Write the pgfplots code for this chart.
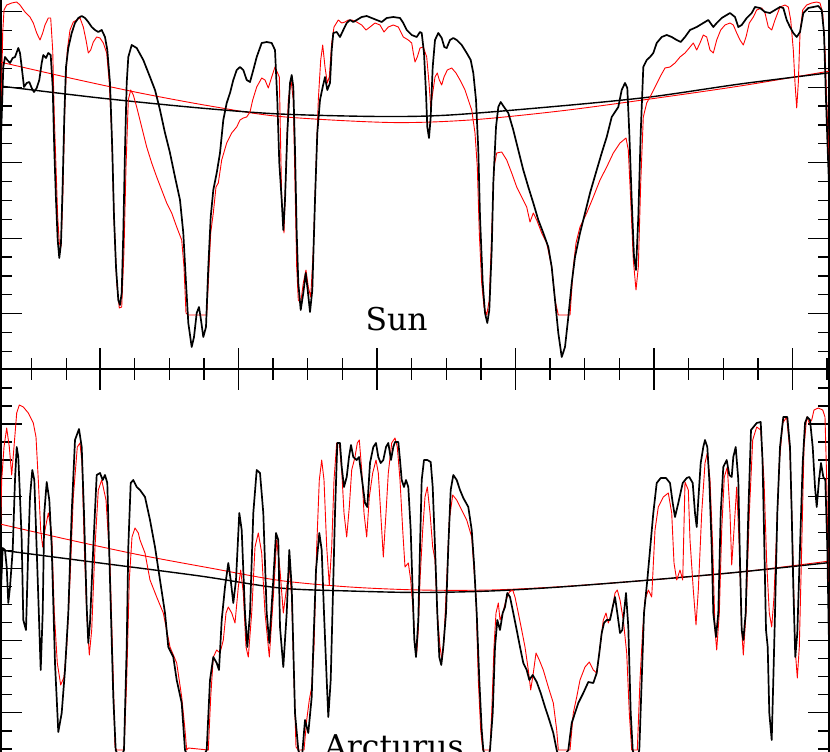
\documentclass[border=0pt]{standalone}
\usepackage{pgfplots}
\pgfplotsset{compat=1.18}
\usepackage{fontspec}
\setmainfont{DejaVu Serif}
\pgfplotsset{
  panel/.style={
    scale only axis, width=828bp, xmin=1, xmax=829, y dir=reverse,
    xtick={100,238.5,377,515.5,654,792.5},
    minor xtick={31.75,66.4,134.6,169.2,203.9,273.1,307.8,342.4,411.6,446.2,480.9,550.1,584.8,619.4,688.6,723.3,757.9,827.1},
    xticklabels={}, yticklabels={},
    tick align=inside,
    major tick length=21bp, minor tick length=11bp,
    every tick/.style={black, line width=1.3bp},
    axis line style={line width=1.5bp},
  },
  spec/.style={black, line width=1.7bp, line join=round},
  mod/.style={red, line width=0.9bp, line join=round},
  contb/.style={black, line width=1.4bp, smooth},
  contr/.style={red, line width=0.9bp, smooth},
}
\begin{document}
\begin{tikzpicture}
\useasboundingbox (0,0) rectangle (830bp,752bp);
\clip (0,0) rectangle (830bp,752bp);
% ---------------- top panel: Sun
\begin{axis}[panel, at={(1bp,383bp)}, anchor=south west, height=393bp, ymin=-24, ymax=369,
  ytick={11.7,87.2,162.7,238.2,313.7},
  minor ytick={-7.2,30.6,49.5,68.3,106.1,125,143.8,181.6,200.5,219.3,257.1,276,294.8,332.6,351.5}]
\addplot[contr] coordinates {(0,62)(70,78)(140,93)(210,106)(280,116.5)(390,122.5)(470,120)(560,111)(650,99)(740,86)(830,71)};
\addplot[contb] coordinates {(0,86)(100,98)(200,108)(280,114)(380,116.5)(450,115)(560,106)(650,97)(740,84)(830,72.7)};
\addplot[mod] coordinates {(0,117)(1.7,83)(2.7,33)(4,10)(6.7,5)(11.7,3)(16.7,2)(20,5)(25,12)(30,17)(33.3,23)(36.7,33)(40,40)(42.7,33)(45,25)(48.3,18)(50.7,18)(52.7,50)(54.3,117)(56,167)(57.7,217)(59.3,243)(61,247)(62.7,200)(65,100)(67.3,50)(70,30)(73.3,22)(76.7,20)(80,18)(83.3,27)(86,40)(88.3,53)(90.7,50)(93.3,42)(96.7,37)(100,38)(103.3,43)(106.7,53)(109.3,83)(111.7,133)(114,217)(116.7,283)(119.3,308)(121.7,307)(124,250)(126,167)(128.3,100)(130.7,90)(133.3,95)(136.7,107)(141.7,127)(146.7,147)(151.7,163)(156.7,177)(161.7,190)(166.7,203)(171.7,213)(176.7,227)(181.7,240)(184,267)(186,313)(188.3,315)(206.7,315)(208.3,283)(210.7,233)(213.3,213)(216,187)(218.3,183)(221.7,160)(226.7,143)(231.7,133)(236.7,127)(240,120)(243.3,118)(246.7,117)(250,112)(252.7,100)(256.7,87)(261.7,78)(265,80)(268.3,88)(271.7,77)(275,67)(279.3,77)(281.7,200)(284,233)(286,167)(288.3,100)(291,80)(293.3,100)(295,183)(296.7,267)(298.3,300)(300.7,303)(303.3,283)(306,270)(308.3,287)(310.7,297)(313.3,250)(316,167)(318.3,100)(320.7,60)(322.7,45)(325,67)(327.3,83)(329.3,77)(331.7,43)(334,27)(338.3,20)(341.7,23)(345,22)(348.3,20)(351.7,20)(356.7,22)(361.7,25)(366,30)(370,27)(375,23)(380,25)(384,32)(388.3,27)(393.3,25)(398.3,27)(403.3,37)(408.3,40)(411.7,43)(413.3,53)(415,62)(417.3,57)(420,48)(423.3,47)(426.7,57)(429,83)(430.7,107)(432.7,93)(435,77)(437.3,73)(439.3,80)(441.7,85)(444,77)(447.3,70)(451.7,68)(456,73)(460,80)(465,90)(468.3,100)(471.7,110)(475,133)(477.3,167)(479.3,233)(481.7,283)(484,307)(486.7,315)(489.3,300)(491.7,233)(494,167)(496.7,153)(501.7,152)(506.7,160)(511.7,173)(516.7,187)(521.7,197)(526.7,207)(530,222)(533.3,213)(536.7,220)(541.7,233)(546.7,243)(551.7,267)(555,300)(558.3,315)(570,315)(573.3,267)(576,243)(580,227)(586.7,213)(593.3,197)(600,180)(606.7,167)(613.3,153)(620,143)(626,138)(628.3,150)(630.7,200)(633.3,260)(636,290)(638.3,267)(640.7,183)(643.3,117)(646.7,103)(650,97)(655,87)(660,77)(665,68)(670,67)(675,63)(680,57)(685,53)(690,47)(693.3,43)(696.7,50)(700,43)(703.3,35)(706.7,37)(710,50)(713.3,53)(716.7,40)(720.7,30)(725,25)(730,23)(733.3,25)(736.7,33)(740,40)(743.3,45)(746,37)(749.3,23)(753.3,17)(756.7,10)(761.7,8)(765,13)(768.3,27)(771.7,30)(775,20)(780,7)(785,5)(788.3,7)(790.7,20)(793.3,50)(795,83)(796.7,108)(798.3,83)(800,33)(802.7,10)(806.7,5)(811.7,3)(816.7,2)(820,3)(822.7,13)(825,50)(827.3,117)(829.3,167)(831,200)};
\addplot[spec] coordinates {(0,160)(1.7,117)(3.3,67)(5,57)(7.3,60)(10,63)(12.7,58)(15,57)(18.3,48)(20,53)(21.7,67)(24,87)(26.7,83)(29.3,82)(31.7,88)(34,92)(36.7,88)(39.3,80)(41.7,63)(43.3,55)(46,58)(48.3,53)(50.7,55)(52.7,87)(54.3,150)(56,200)(57.7,240)(59.3,258)(61,243)(62.7,183)(64.3,117)(66,67)(68.3,48)(71.7,33)(75,23)(78.3,18)(81.7,16)(85,18)(88.3,22)(91.7,27)(95,30)(98.3,32)(101.7,30)(105,37)(107.3,50)(110,83)(112.3,150)(114,217)(116,267)(118.3,300)(120,305)(121.7,293)(123.3,233)(125,150)(126.7,83)(128.3,57)(131.7,45)(136.7,48)(143.3,60)(150,77)(155,90)(160,110)(165,133)(170,153)(175,177)(180,200)(183.3,233)(186,283)(188.3,323)(191.7,347)(194,337)(196.7,313)(199,307)(201,320)(203.3,337)(206,327)(208.3,267)(210.7,217)(213.3,190)(216.7,173)(220,153)(223.3,120)(226.7,103)(230,93)(233.3,80)(236.7,70)(240,67)(243.3,70)(246.7,80)(250,82)(253.3,70)(256.7,57)(261.7,43)(266.7,42)(271.7,43)(275,50)(277.3,100)(279.3,163)(281.7,200)(283.3,230)(285,200)(287.3,133)(290,83)(291.7,75)(293.3,87)(295,150)(296.7,233)(298.3,283)(300.7,310)(303.3,293)(305.7,273)(307.7,290)(310,312)(312.3,290)(315,200)(317.3,133)(320,100)(322.7,87)(325,77)(327.3,90)(330,83)(331.7,50)(333.3,33)(336.7,32)(340,37)(343.3,30)(346.7,23)(350,20)(353.3,22)(356.7,20)(361.7,17)(366.7,16)(371.7,18)(376.7,20)(381.7,22)(386.7,18)(393.3,17)(400,18)(403.3,23)(406.7,30)(411.7,35)(416.7,37)(420,32)(421.7,33)(424,53)(426,93)(427.3,127)(429,138)(430.7,117)(432.7,67)(435,40)(438.3,33)(441.7,38)(444.3,47)(446.7,48)(450,40)(453.3,38)(456.7,40)(461.7,45)(466.7,53)(470.7,60)(473.3,73)(476,100)(478.3,150)(480,217)(482.7,283)(485,313)(487.3,323)(489.3,310)(491.7,250)(493.3,183)(496,127)(498.3,107)(500.7,102)(504,107)(508.3,113)(513.3,130)(518.3,150)(523.3,170)(528.3,187)(533.3,203)(538.3,220)(543.3,233)(548.3,247)(551.7,267)(555,300)(558.3,333)(561.7,357)(565,347)(568.3,317)(571.7,283)(575,257)(580,233)(585,213)(590,193)(596.7,170)(601.7,153)(606.7,137)(611.7,117)(615,112)(618.3,107)(621.7,90)(625,83)(627.3,88)(629.3,133)(631.7,200)(634,257)(636,270)(638.3,217)(640.7,133)(643.3,67)(646.7,60)(650,57)(653.3,53)(656.7,43)(661.7,37)(666.7,35)(671.7,37)(676.7,40)(680.7,42)(685,37)(690,30)(696.7,27)(703.3,23)(708.3,20)(713.3,27)(716.7,23)(721.7,18)(726.7,15)(730,13)(735,17)(738.3,27)(741.7,25)(746.7,18)(751.7,13)(755,7)(760,8)(765,12)(770,13)(775,10)(780,7)(783.3,8)(786.7,20)(790,27)(793.3,33)(796.7,37)(800,32)(803.3,13)(808.3,8)(813.3,7)(818.3,6)(821.7,10)(824,33)(826,100)(827.7,150)(829.3,193)(831,230)};
\node[anchor=base, font=\fontsize{31.5}{36}\selectfont] at (axis cs:396.5,330.5) {Sun};
\end{axis}
% ---------------- bottom panel: Arcturus
\begin{axis}[panel, at={(1bp,383bp)}, anchor=north west, height=431bp, ymin=369, ymax=800,
  ytick={424,496.2,568.4,640.6,712.8,785},
  minor ytick={387.9,405.95,442.05,460.1,478.15,514.25,532.3,550.35,586.45,604.5,622.55,658.65,676.7,694.75,730.85,748.9,766.95}]
\addplot[contr] coordinates {(0,524)(70,540)(140,555)(210,568)(280,580.5)(350,587)(420,590)(490,590)(560,586.7)(650,580)(740,572)(830,561)};
\addplot[contb] coordinates {(0,550)(100,563)(200,576)(280,588)(350,591)(420,592.5)(490,591)(560,587)(650,580)(740,572)(830,562.5)};
\addplot[mod] coordinates {(0,550)(1.7,480)(4,447)(6.7,428)(9.3,447)(11.7,475)(14,447)(16.7,413)(19.3,405)(23.3,407)(28.3,413)(33.3,423)(36,437)(38.3,480)(40.7,530)(42.7,547)(45,530)(48.3,513)(51.7,533)(54.3,613)(57.3,663)(60.7,685)(64,677)(66.7,647)(70,580)(73.3,497)(77.3,447)(80,443)(82,463)(84.3,547)(86.7,613)(89.3,655)(91.7,630)(95,547)(98.3,490)(101.7,480)(106,500)(110,563)(113.3,680)(115,747)(116.7,750)(124,750)(126.7,680)(129.3,580)(132,537)(135,528)(138.3,533)(140,540)(145,553)(150,580)(156.7,597)(163.3,613)(170,647)(176.7,663)(181.7,697)(185,730)(186.7,750)(188.3,748)(208.3,750)(210.7,697)(213.3,657)(216.7,650)(220,653)(223.3,640)(226,613)(228.3,607)(231.7,613)(235,623)(238.3,587)(240.7,570)(243.3,593)(246,647)(248.3,657)(251.7,613)(255,547)(258.3,533)(261.7,553)(265,613)(269.3,657)(273.3,597)(276.7,540)(280,570)(283.3,613)(286.7,587)(289.3,567)(291.7,597)(294,680)(296,747)(298.3,750)(304,750)(306.7,720)(309.3,700)(311.7,687)(314,647)(316.7,547)(319.3,480)(321.7,460)(324,480)(326.7,547)(329.3,585)(331.7,547)(334,480)(336.7,443)(339.3,443)(341.7,470)(344,513)(346.7,537)(349.3,507)(351.7,470)(355,457)(357.3,443)(359.3,440)(361.7,470)(364,513)(366.7,537)(369.3,497)(372.7,473)(376,460)(378.3,473)(380.7,513)(383.3,557)(386,513)(388.3,473)(391.7,443)(395,438)(397.3,447)(400,480)(402.7,530)(405,567)(408.3,563)(410.7,580)(413.3,613)(415,647)(416.7,653)(418.3,630)(420,580)(422.7,530)(425,497)(427.3,487)(430,513)(432.7,547)(435,560)(437.3,613)(440,647)(442,660)(444,640)(446.7,580)(449.3,520)(452.7,495)(456.7,500)(461.7,510)(466.7,520)(471.7,537)(474,570)(476,597)(478.3,680)(480.7,730)(482.7,750)(490,750)(491.7,713)(494,647)(496,613)(498.3,603)(500,620)(502.7,613)(506,600)(509.3,592)(512.7,590)(515,597)(518.3,613)(521.7,630)(525,647)(528.3,670)(530.7,690)(533.3,673)(536,653)(539.3,660)(543.3,670)(548.3,687)(553.3,703)(556.7,730)(558.3,750)(570,750)(573.3,713)(576.7,697)(580,680)(585,667)(589.3,662)(593.3,670)(596.7,673)(600,647)(603.3,620)(606,613)(608.3,623)(611.7,613)(615,593)(617.3,590)(620,600)(623.3,620)(626.7,653)(629.3,713)(631.7,750)(637.3,750)(640,680)(642.7,630)(645,600)(648.3,590)(651.7,597)(655,530)(658.3,507)(663.3,497)(668.3,493)(671.7,513)(674,563)(676.7,580)(680,570)(682.7,580)(685,482)(688.3,490)(690,540)(693.3,590)(696,625)(698.3,590)(701.7,513)(705,463)(707.3,453)(710,480)(712.7,547)(715,630)(716.7,650)(719.3,613)(721.7,530)(724.3,477)(727.3,467)(730,513)(731.7,565)(734,530)(736.7,487)(739.3,547)(741.7,630)(743.3,655)(746,613)(749.3,513)(752.7,440)(756.7,427)(760.7,430)(764,480)(766.7,563)(769.3,613)(771.7,627)(774,597)(776.7,530)(779.3,463)(782.7,423)(786.7,417)(790,453)(792.7,547)(795,647)(797.3,678)(799.3,647)(801.7,547)(804,447)(806.7,417)(809.3,423)(811.7,420)(814,410)(818.3,408)(822.7,410)(825,417)(826.7,480)(828.3,580)(830,647)};
\addplot[spec] coordinates {(0,613)(2.7,548)(5,550)(6.7,567)(8.3,603)(10,587)(12.7,550)(15,480)(16.7,447)(18.3,457)(20,497)(21.7,540)(23.3,620)(26,630)(28.3,547)(30,497)(32.3,470)(34.3,480)(35.7,520)(38.3,597)(40.7,670)(42.7,613)(44.3,513)(46.7,482)(49.3,500)(51.7,547)(55,663)(58.3,732)(61.7,713)(65,670)(68.3,613)(71.7,513)(75,440)(79,429)(81.7,447)(84,513)(86.7,607)(88.3,643)(90,623)(93.3,547)(96.7,475)(100,473)(102.7,480)(105,475)(107.3,483)(110,580)(113.3,697)(115.7,750)(120,760)(124,750)(126.7,647)(128.3,547)(130.7,483)(133.3,480)(136.7,487)(140,490)(145,497)(150,520)(155,547)(160,580)(165,613)(168.3,647)(173.3,657)(176.7,680)(181.7,703)(185,750)(190,762)(200,762)(206.7,750)(210,680)(213.3,657)(216.7,663)(219,670)(221.7,620)(225,587)(228.3,563)(230.7,580)(233.3,603)(236,580)(239.3,513)(241.7,530)(245,613)(247.3,647)(250,613)(253.3,513)(256.7,470)(260,473)(263.3,513)(266.7,613)(269.3,643)(273.3,580)(276,533)(278.3,540)(280,627)(283.3,667)(286.7,613)(289.3,550)(291.7,587)(295,713)(298.3,750)(301.7,760)(305,720)(308.3,733)(311.7,697)(313.3,647)(316,570)(319.3,533)(321.7,550)(324,613)(326.7,680)(328.3,717)(330.7,680)(333.3,580)(335,513)(337.3,443)(340,443)(341.7,467)(344,487)(346.7,477)(349,457)(351,445)(353.3,457)(356.7,460)(359,457)(361.7,477)(365,503)(367.3,507)(370,463)(373.3,447)(376,443)(378.3,457)(380.7,463)(383.3,460)(386,447)(388.3,443)(391,460)(393.3,447)(395,442)(398.3,442)(400,460)(401.7,480)(404,487)(406,480)(408.3,487)(410.7,530)(412.7,593)(414.3,640)(416,657)(418.3,620)(420,547)(421.7,480)(424,460)(427.3,460)(430.7,462)(432.7,487)(435,547)(437.3,613)(439.3,657)(441.3,665)(443.3,647)(446,613)(448.3,547)(450.7,490)(453.3,475)(456.7,480)(460,490)(463.3,498)(468.3,507)(471.7,530)(474,563)(476.7,613)(479.3,680)(481.7,730)(483.3,750)(486.7,762)(490,750)(492.7,713)(495,647)(497.3,620)(500,630)(502.7,613)(505,607)(507.3,593)(510,597)(513.3,613)(516.7,630)(520,647)(523.3,663)(526.7,670)(529.3,680)(532.7,675)(536.7,682)(540.7,693)(545,707)(549.3,720)(553.3,733)(556.7,750)(560,762)(568.3,750)(571.7,723)(575,713)(578.3,703)(583.3,693)(588.3,682)(593.3,683)(596.7,673)(599.3,653)(601.7,633)(604,623)(606.7,620)(610,620)(612.7,607)(615,597)(617.3,613)(620,633)(622.3,630)(624,613)(626,593)(628.3,627)(630.7,713)(632.7,750)(636,762)(639.3,750)(641.7,680)(644,613)(647.3,580)(650,550)(653.3,513)(656.7,483)(660.7,478)(666,478)(670,483)(672.7,503)(675,517)(678.3,503)(682.7,483)(686.7,478)(689.3,477)(692.7,483)(695,513)(696.7,527)(698.3,500)(700.7,463)(703.3,447)(705,440)(707.3,447)(709.3,480)(711.7,547)(713.3,613)(716,637)(718.3,613)(720.7,513)(723.3,467)(726.7,460)(729.3,475)(731.7,477)(733.3,457)(735.7,447)(738.3,480)(740,563)(741.7,630)(743.3,640)(745.7,613)(748.3,513)(751,430)(756.7,423)(760.7,422)(762.5,460)(764,530)(766,630)(767.7,647)(769.3,713)(771.7,740)(773.3,680)(775,613)(777.3,513)(780,447)(783.3,417)(787.3,417)(790,447)(791.7,513)(793.3,587)(795.3,657)(797.3,633)(800,547)(802.7,463)(805,423)(807.3,417)(810,420)(812.7,447)(815,487)(816.7,507)(819,480)(821,463)(823.3,477)(825.3,480)(827.3,547)(828.7,630)(830,673)};
\node[anchor=base, font=\fontsize{31.5}{36}\selectfont] at (axis cs:394,757) {Arcturus};
\end{axis}
\end{tikzpicture}
\end{document}
